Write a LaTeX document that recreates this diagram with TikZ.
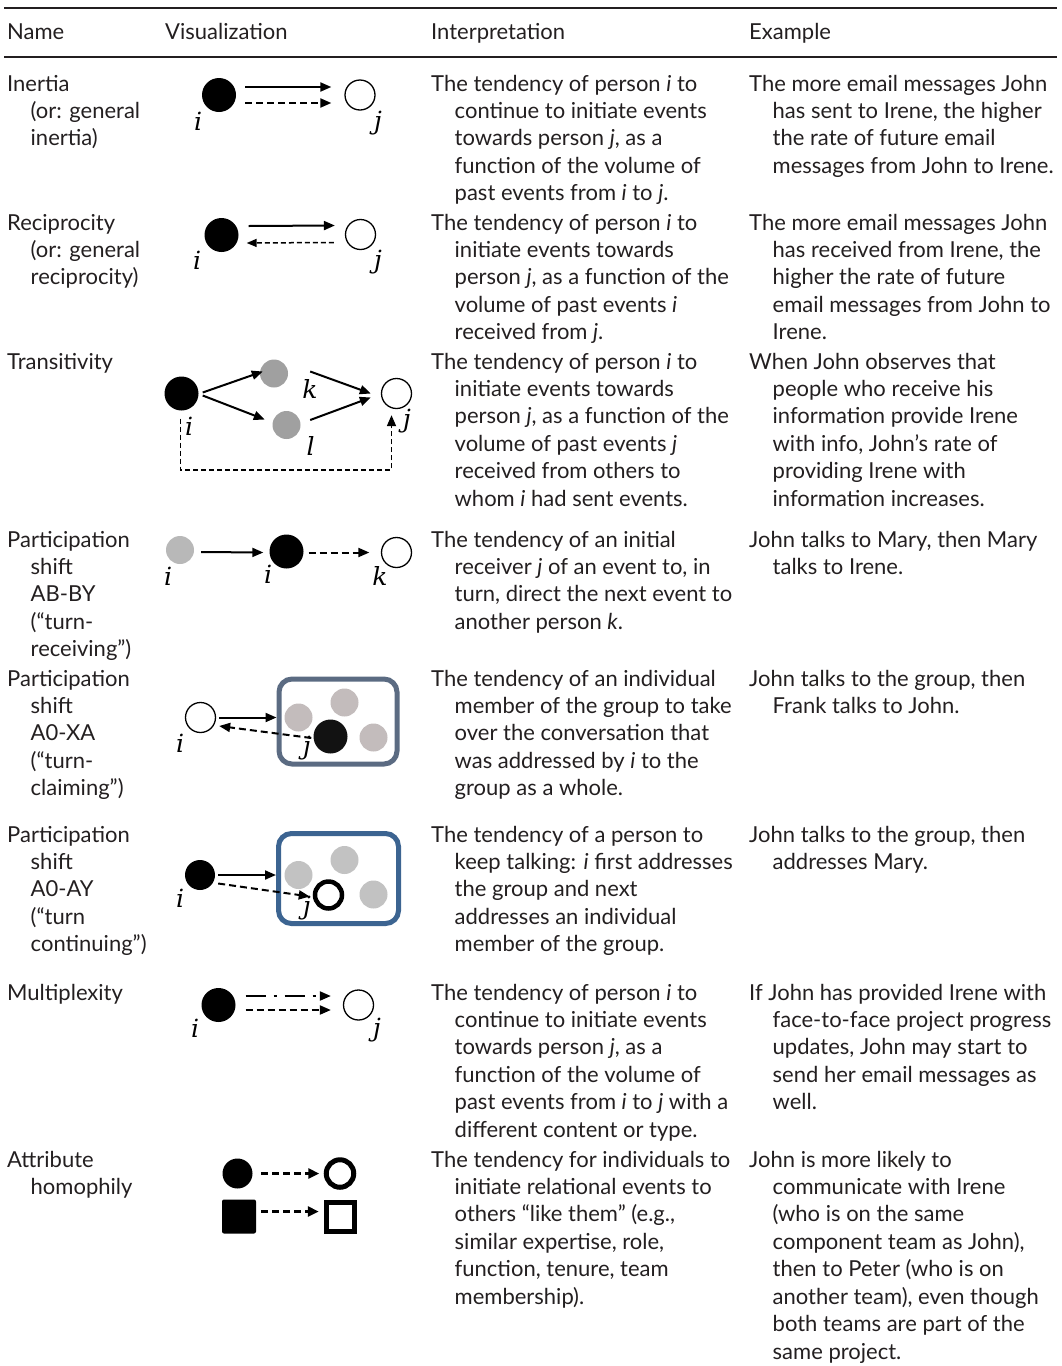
\documentclass[tikz,border=0pt]{standalone}
\usepackage{fontspec}
\setmainfont{Lato}
\newfontfamily\labfont{DejaVu Serif}
\usetikzlibrary{arrows.meta,calc}
\definecolor{ink}{HTML}{231F20}
\definecolor{grpA}{HTML}{5B6B82}
\definecolor{grpB}{HTML}{3C6491}
\definecolor{gmid}{HTML}{A0A0A0}
\definecolor{glt}{HTML}{B8B8B8}
\definecolor{gwarm}{HTML}{C3BCBC}
\definecolor{gcl}{HTML}{C2C2C2}
\newcommand\tcolumn[4]{%
  \foreach \t [count=\n] in {#4}{%
    \pgfmathsetmacro\yy{#3+(\n-1)*27.45}%
    \ifnum\n=1 \pgfmathsetmacro\xx{#2}\else\pgfmathsetmacro\xx{#2+23.5}\fi
    \node[txt] (#1-\n) at (\xx,\yy) {\t};}}
\begin{document}
\begin{tikzpicture}[x=1pt,y=-1pt,
  txt/.style={anchor=base west, inner sep=0pt, text=ink, font=\fontsize{22}{26}\selectfont},
  lab/.style={inner sep=0pt, font=\labfont\itshape\fontsize{25}{28}\selectfont},
  arr/.style={line width=2pt, -{Triangle[length=11pt,width=9pt]}},
  dsh/.style={dash pattern=on 7pt off 4pt},
  blk/.style={circle, fill=black, inner sep=0pt, minimum size=#1},
  blk/.default=34pt,
  opn/.style={circle, draw=black, line width=1.3pt, inner sep=0pt, minimum size=#1},
  opn/.default=30pt,
  dot/.style={circle, fill=#1, inner sep=0pt, minimum size=28pt},
  rulel/.style={line width=2pt, draw=ink}
]
\useasboundingbox (0,0) rectangle (1061,1366);

% rules
\coordinate (tl) at (4,7.5); \coordinate (tr) at (1057,7.5);
\coordinate (hl) at (4,56.7); \coordinate (hr) at (1057,56.7);
\draw[rulel] (tl) -- (tr);
\draw[rulel] (hl) -- (hr);

% header
\node[txt] (hName) at (7,39.5) {Name};
\node[txt] (hVis) at (165,39.5) {Visualization};
\node[txt] (hInt) at (431,39.5) {Interpretation};
\node[txt] (hEx) at (749,39.5) {Example};

% ---------- texts ----------
\tcolumn{r1n}{7}{91}{{Inertia},{(or: general},{inertia)}}
\tcolumn{r1p}{431}{91}{{The tendency of person \textit{i} to},{continue to initiate events},{towards person \textit{j}, as a},{function of the volume of},{past events from \textit{i} to \textit{j}.}}
\tcolumn{r1e}{749}{91}{{The more email messages John},{has sent to Irene, the higher},{the rate of future email},{messages from John to Irene.}}

\tcolumn{r2n}{7}{230}{{Reciprocity},{(or: general},{reciprocity)}}
\tcolumn{r2p}{431}{230}{{The tendency of person \textit{i} to},{initiate events towards},{person \textit{j}, as a function of the},{volume of past events \textit{i}},{received from \textit{j}.}}
\tcolumn{r2e}{749}{230}{{The more email messages John},{has received from Irene, the},{higher the rate of future},{email messages from John to},{Irene.}}

\tcolumn{r3n}{7}{369}{{Transitivity}}
\tcolumn{r3p}{431}{369}{{The tendency of person \textit{i} to},{initiate events towards},{person \textit{j}, as a function of the},{volume of past events \textit{j}},{received from others to},{whom \textit{i} had sent events.}}
\tcolumn{r3e}{749}{369}{{When John observes that},{people who receive his},{information provide Irene},{with info, John’s rate of},{providing Irene with},{information increases.}}

\tcolumn{r4n}{7}{547}{{Participation},{shift},{AB-BY},{(“turn-},{receiving”)}}
\tcolumn{r4p}{431}{547}{{The tendency of an initial},{receiver \textit{j} of an event to, in},{turn, direct the next event to},{another person \textit{k}.}}
\tcolumn{r4e}{749}{547}{{John talks to Mary, then Mary},{talks to Irene.}}

\tcolumn{r5n}{7}{686}{{Participation},{shift},{A0-XA},{(“turn-},{claiming”)}}
\tcolumn{r5p}{431}{686}{{The tendency of an individual},{member of the group to take},{over the conversation that},{was addressed by \textit{i} to the},{group as a whole.}}
\tcolumn{r5e}{749}{686}{{John talks to the group, then},{Frank talks to John.}}

\tcolumn{r6n}{7}{842}{{Participation},{shift},{A0-AY},{(“turn},{continuing”)}}
\tcolumn{r6p}{431}{842}{{The tendency of a person to},{keep talking: \textit{i} first addresses},{the group and next},{addresses an individual},{member of the group.}}
\tcolumn{r6e}{749}{842}{{John talks to the group, then},{addresses Mary.}}

\tcolumn{r7n}{7}{1000}{{Multiplexity}}
\tcolumn{r7p}{431}{1000}{{The tendency of person \textit{i} to},{continue to initiate events},{towards person \textit{j}, as a},{function of the volume of},{past events from \textit{i} to \textit{j} with a},{different content or type.}}
\tcolumn{r7e}{749}{1000}{{If John has provided Irene with},{face-to-face project progress},{updates, John may start to},{send her email messages as},{well.}}

\tcolumn{r8n}{7}{1167}{{Attribute},{homophily}}
\tcolumn{r8p}{431}{1167}{{The tendency for individuals to},{initiate relational events to},{others “like them” (e.g.,},{similar expertise, role,},{function, tenure, team},{membership).}}
\tcolumn{r8e}{749}{1167}{{John is more likely to},{communicate with Irene},{(who is on the same},{component team as John),},{then to Peter (who is on},{another team), even though},{both teams are part of the},{same project.}}

% ---------- row 1: inertia ----------
\node[blk] (r1i) at (219,95) {};
\node[opn] (r1j) at (360,95) {};
\draw[arr] ([shift={(9,-8)}]r1i.east) -- ([shift={(-13,-8)}]r1j.west);
\draw[arr,dsh] ([shift={(9,8)}]r1i.east) -- ([shift={(-13,8)}]r1j.west);
\node[lab] (r1li) at (198,121) {i};
\node[lab] (r1lj) at (378,123) {j};

% ---------- row 2: reciprocity ----------
\node[blk] (r2i) at (221.5,235) {};
\node[opn] (r2j) at (360.5,234.5) {};
\draw[arr] ([shift={(10,-9)}]r2i.east) -- ([shift={(-10,-9)}]r2j.west);
\draw[line width=1.5pt, dash pattern=on 5pt off 3pt, -{Triangle[length=10pt,width=8pt]}] ([shift={(-11,8)}]r2j.west) -- ([shift={(8,8)}]r2i.east);
\node[lab] (r2li) at (197,260) {i};
\node[lab] (r2lj) at (378,262) {j};

% ---------- row 3: transitivity ----------
\node[blk] (r3i) at (181.5,393.5) {};
\node[dot=gmid] (r3k) at (274,373.5) {};
\node[dot=gmid] (r3l) at (286.5,425) {};
\node[opn] (r3j) at (396.5,393.5) {};
\draw[arr] ([shift={(4,-1)}]r3i.east) -- ([shift={(3,-2)}]r3k.west);
\draw[arr] ([shift={(4,2)}]r3i.east) -- ([shift={(-7.5,-5.5)}]r3l.west);
\draw[arr] ([shift={(22,-2)}]r3k.east) -- ([shift={(-10,0)}]r3j.west);
\draw[arr] ([shift={(9.5,-5)}]r3l.east) -- ([shift={(-10,4)}]r3j.west);
\coordinate (r3c) at (391.5,470);
\draw[line width=1.7pt, dash pattern=on 5pt off 3pt, -{Triangle[length=11pt,width=9pt]}]
  ([shift={(-1,8)}]r3i.south) |- (r3c) -- ([shift={(-5,6)}]r3j.south);
\node[lab] (r3lk) at (310,389) {k};
\node[lab] (r3ll) at (310.5,446) {l};
\node[lab] (r3li) at (189,426) {i};
\node[lab] (r3lj) at (407,421) {j};

% ---------- row 4: participation shift AB-BY ----------
\node[dot=glt] (r4a) at (180,550) {};
\node[blk] (r4b) at (286.5,551.5) {};
\node[opn] (r4c) at (396.5,552.5) {};
\draw[arr] ([shift={(7,2)}]r4a.east) -- ([shift={(-6,1)}]r4b.west);
\draw[arr,dsh] ([shift={(5,1)}]r4b.east) -- ([shift={(-11.5,0)}]r4c.west);
\node[lab] (r4la) at (168,576) {i};
\node[lab] (r4lb) at (268,574) {i};
\node[lab] (r4lc) at (380,576) {k};

% ---------- row 5: participation shift A0-XA ----------
\node[draw=grpA, line width=5pt, rounded corners=13pt, minimum width=118pt, minimum height=85pt, inner sep=0pt] (r5g) at (338,721.5) {};
\node[dot=gwarm] (r5a) at (298.5,717.5) {};
\node[dot=gwarm] (r5b) at (344.5,702.5) {};
\node[dot=gwarm] (r5c) at (373.5,737.5) {};
\node[lab] (r5lj) at (307,748) {j};
\node[circle, fill=black!93, inner sep=0pt, minimum size=34pt] (r5j) at (330.5,736.5) {};
\node[opn] (r5i) at (200.5,717.5) {};
\draw[arr] ([shift={(3,0)}]r5i.east) -- ([shift={(0,-4)}]r5g.west);
\draw[arr,dsh] ([shift={(-2,1.5)}]r5j.west) -- ([shift={(3,8.5)}]r5i.east);
\node[lab] (r5li) at (180,743) {i};

% ---------- row 6: participation shift A0-AY ----------
\node[draw=grpB, line width=5pt, rounded corners=13pt, minimum width=120pt, minimum height=90pt, inner sep=0pt] (r6g) at (338.5,878.5) {};
\node[dot=gcl] (r6a) at (298.5,875) {};
\node[dot=gcl] (r6b) at (344.5,860) {};
\node[dot=gcl] (r6c) at (373.5,894.5) {};
\node[lab] (r6lj) at (307,908) {j};
\node[circle, draw=black, line width=4.5pt, fill=white, inner sep=0pt, minimum size=27pt] (r6j) at (328.5,895) {};
\node[blk=30pt] (r6i) at (200,875) {};
\draw[arr] ([shift={(3,0)}]r6i.east) -- ([shift={(0,-3.5)}]r6g.west);
\draw[arr,dsh] ([shift={(3,8.5)}]r6i.east) -- ([shift={(-3,1.5)}]r6j.west);
\node[lab] (r6li) at (180,898) {i};

% ---------- row 7: multiplexity ----------
\node[blk] (r7i) at (218.5,1005) {};
\node[opn] (r7j) at (358.5,1005) {};
\draw[arr, dash pattern=on 20pt off 8pt on 3pt off 8pt] ([shift={(10,-9)}]r7i.east) -- ([shift={(-12,-9)}]r7j.west);
\draw[arr,dsh] ([shift={(10,5)}]r7i.east) -- ([shift={(-12,5)}]r7j.west);
\node[lab] (r7li) at (195,1028) {i};
\node[lab] (r7lj) at (377,1030) {j};

% ---------- row 8: attribute homophily ----------
\node[blk=30pt] (r8a) at (237.5,1173.5) {};
\node[circle, draw=black, line width=5pt, inner sep=0pt, minimum size=27.5pt] (r8b) at (340,1173.5) {};
\node[fill=black, rounded corners=2pt, inner sep=0pt, minimum size=34pt] (r8c) at (239,1216.5) {};
\node[draw=black, line width=5pt, inner sep=0pt, minimum size=28.5pt] (r8d) at (340.5,1217) {};
\draw[line width=2.5pt, dsh, -{Triangle[length=11pt,width=10pt]}] ([shift={(8.5,0)}]r8a.east) -- ([shift={(-4.5,0)}]r8b.west);
\draw[line width=2.5pt, dsh, -{Triangle[length=11pt,width=10pt]}] ([shift={(5,-5)}]r8c.east) -- ([shift={(-5,-5.5)}]r8d.west);
\end{tikzpicture}
\end{document}
